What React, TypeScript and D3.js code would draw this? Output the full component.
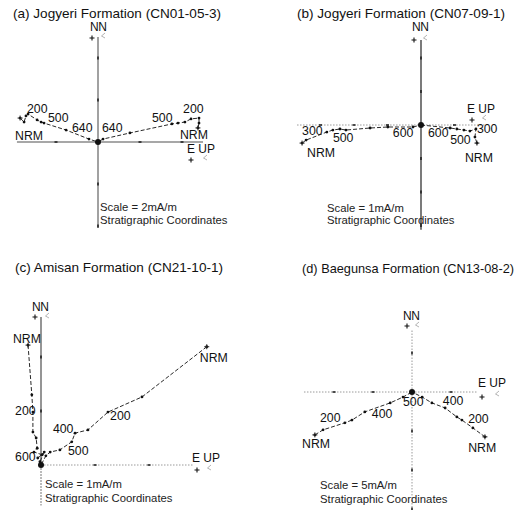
import * as d3 from "d3";

type Pt = [number, number];
type Step = [string, number, number];

// values in mA/m, east / north-up positive
// (a) Jogyeri Formation CN01-05-3
const aWest: Pt[] = [[-3.71, 1.14], [-3.52, 0.95], [-3.43, 1.24], [-3.33, 1.33], [-2.9, 1.05], [-2.71, 0.95], [-2.57, 0.9], [-1.52, 0.57], [-0.43, 0.14], [0, 0]];
const aEast: Pt[] = [[4.76, 0.67], [4.81, 0.9], [4.81, 1.14], [4.43, 1.1], [4.14, 0.95], [3.81, 0.9], [3.52, 0.86], [1.52, 0.43], [0.24, 0.14], [0, 0]];
const aSteps: Step[] = [["NRM", -3.95, 0.1], ["200", -3.38, 1.38], ["500", -2.38, 0.95], ["640", -1.24, 0.48], ["640", 0.19, 0.48], ["500", 2.57, 0.95], ["200", 4.05, 1.38], ["NRM", 3.9, 0.14]];

// (b) Jogyeri Formation CN07-09-1
const bWest: Pt[] = [[-3.55, -0.54], [-3.43, -0.45], [-2.81, -0.21], [-2.63, -0.15], [-2.42, -0.12], [-2.24, -0.15], [-1.52, -0.09], [-0.99, -0.06], [-0.24, -0.06], [0, 0]];
const bEast: Pt[] = [[1.67, -0.54], [1.61, -0.36], [1.64, -0.12], [1.46, -0.18], [1.28, -0.15], [1.07, -0.12], [0.87, -0.09], [0, 0]];
const bSteps: Step[] = [["300", -3.55, -0.3], ["500", -2.63, -0.51], ["NRM", -3.4, -0.96], ["600", -0.84, -0.36], ["600", 0.21, -0.36], ["500", 0.87, -0.57], ["300", 1.67, -0.24], ["NRM", 1.31, -1.1]];

// (c) Amisan Formation CN21-10-1
const cUp: Pt[] = [[-0.24, 2.22], [-0.17, 1.3], [-0.15, 0.98], [-0.15, 0.61], [-0.09, 0.5], [-0.07, 0.31], [-0.13, 0.24], [0.02, 0.19], [-0.06, 0.13], [0.06, 0.24], [-0.02, 0.06], [0, 0]];
const cEast: Pt[] = [[3.07, 2.19], [1.87, 1.26], [1.24, 0.98], [0.87, 0.65], [0.63, 0.59], [0.57, 0.43], [0.35, 0.28], [0.17, 0.24], [0.09, 0.17], [0, 0]];
const cSteps: Step[] = [["NRM", -0.52, 2.26], ["200", -0.48, 0.93], ["600", -0.48, 0.07], ["NRM", 2.94, 1.91], ["200", 1.28, 0.83], ["400", 0.22, 0.59], ["500", 0.5, 0.19]];

// (d) Baegunsa Formation CN13-08-2
const dWest: Pt[] = [[-2.49, -1.1], [-2.28, -0.97], [-1.72, -0.79], [-1.54, -0.72], [-1.21, -0.51], [-0.56, -0.28], [-0.23, -0.13], [0, 0]];
const dEast: Pt[] = [[1.87, -1.15], [1.56, -0.92], [1.28, -0.72], [1.15, -0.64], [0.85, -0.41], [0.51, -0.28], [0.26, -0.13], [0, 0]];
const dSteps: Step[] = [["NRM", -2.82, -1.44], ["200", -2.36, -0.77], ["400", -1.03, -0.67], ["500", -0.23, -0.36], ["400", 0.79, -0.33], ["200", 1.44, -0.79], ["NRM", 1.44, -1.54]];

const titles = ["(a) Jogyeri Formation (CN01-05-3)", "(b) Jogyeri Formation (CN07-09-1)", "(c) Amisan Formation (CN21-10-1)", "(d) Baegunsa Formation (CN13-08-2)"];
const scaleTexts = ["Scale = 2mA/m", "Scale = 1mA/m", "Scale = 1mA/m", "Scale = 5mA/m"];

interface AxisStyle { stroke: string; width: number; dash?: string }
interface PanelCfg {
  title: string; titleX: number; titleY: number; titleW: number;
  ox: number; oy: number; k: number;
  xDomain: [number, number]; yDomain: [number, number]; tickStep: number;
  hAxis: AxisStyle; vAxis: AxisStyle; vAxisLow?: AxisStyle;
  series: Pt[][]; steps: Step[];
  nn: [number, number]; nnMarks: [number, number, number, number];
  eup: [number, number]; eupMarks: [number, number, number, number];
  scaleText: string; scaleX: number; scaleY: [number, number];
}

const solidGray: AxisStyle = { stroke: "#8a8a8a", width: 1.6 };
const dotted: AxisStyle = { stroke: "#9a9a9a", width: 1, dash: "1.5,1.5" };

const panels: PanelCfg[] = [
  {
    title: titles[0], titleX: 13, titleY: 18, titleW: 208, ox: 98, oy: 142, k: 21,
    xDomain: [-3.86, 5], yDomain: [-4.1, 5], tickStep: 2,
    hAxis: solidGray, vAxis: solidGray, series: [aWest, aEast], steps: aSteps,
    nn: [90, 31], nnMarks: [92, 38, 103, 36], eup: [187, 153], eupMarks: [191, 160, 205, 158],
    scaleText: scaleTexts[0], scaleX: 100, scaleY: [211, 224],
  },
  {
    title: titles[1], titleX: 297, titleY: 18, titleW: 208, ox: 421, oy: 125, k: 33.5,
    xDomain: [-3.7, 1.91], yDomain: [-3.13, 2.54], tickStep: 1,
    hAxis: dotted, vAxis: { stroke: "#333", width: 1.3 }, series: [bWest, bEast], steps: bSteps,
    nn: [412, 31], nnMarks: [414, 40, 425, 38], eup: [467, 113], eupMarks: [472, 120, 484, 118],
    scaleText: scaleTexts[1], scaleX: 327, scaleY: [212, 224],
  },
  {
    title: titles[2], titleX: 15, titleY: 272, titleW: 208, ox: 41, oy: 465, k: 54,
    xDomain: [0, 2.83], yDomain: [-0.75, 2.74], tickStep: 1,
    hAxis: dotted, vAxis: { stroke: "#8a8a8a", width: 1.8 }, vAxisLow: { stroke: "#777", width: 1, dash: "2,1" },
    series: [cUp, cEast], steps: cSteps,
    nn: [32, 311], nnMarks: [35, 317, 47, 316], eup: [192, 462], eupMarks: [197, 470, 209, 468],
    scaleText: scaleTexts[2], scaleX: 45, scaleY: [488, 502],
  },
  {
    title: titles[3], titleX: 302, titleY: 273, titleW: 212, ox: 412, oy: 392, k: 39,
    xDomain: [-2.77, 1.69], yDomain: [-3.1, 1.59], tickStep: 1,
    hAxis: dotted, vAxis: dotted, series: [dWest, dEast], steps: dSteps,
    nn: [403, 320], nnMarks: [407, 326, 417, 325], eup: [478, 387], eupMarks: [482, 397, 497, 394],
    scaleText: scaleTexts[3], scaleX: 320, scaleY: [489, 503],
  },
];

const FONT = "'Liberation Sans', Arial, sans-serif";

// small "+" cross and the faint open wedge that sit beside axis-end labels
const cross = (cx: number, cy: number, s = 2.5) => `M${cx - s},${cy}H${cx + s}M${cx},${cy - s}V${cy + s}`;
const wedge = (cx: number, cy: number) => `M${cx + 2},${cy - 3}L${cx - 1.5},${cy}L${cx + 2},${cy + 2}`;

function Panel({ cfg }: { cfg: PanelCfg }) {
  const x = d3.scaleLinear().domain(cfg.xDomain)
    .range([cfg.ox + cfg.k * cfg.xDomain[0], cfg.ox + cfg.k * cfg.xDomain[1]]);
  const y = d3.scaleLinear().domain(cfg.yDomain)
    .range([cfg.oy - cfg.k * cfg.yDomain[0], cfg.oy - cfg.k * cfg.yDomain[1]]);
  const line = d3.line<Pt>().x((d) => x(d[0])).y((d) => y(d[1]));

  const xTicks = d3.range(Math.ceil(cfg.xDomain[0] / cfg.tickStep), Math.floor(cfg.xDomain[1] / cfg.tickStep) + 1)
    .map((i) => i * cfg.tickStep).filter((v) => v !== 0);
  const yTicks = d3.range(Math.ceil(cfg.yDomain[0] / cfg.tickStep), Math.floor(cfg.yDomain[1] / cfg.tickStep) + 1)
    .map((i) => i * cfg.tickStep).filter((v) => v !== 0);

  const low = cfg.vAxisLow ?? cfg.vAxis;

  return (
    <g fontFamily={FONT}>
      <text x={cfg.titleX} y={cfg.titleY} fontSize={13.5} fill="#111"
        textLength={cfg.titleW} lengthAdjust="spacingAndGlyphs">{cfg.title}</text>

      {/* axes */}
      <line x1={x(cfg.xDomain[0])} x2={x(cfg.xDomain[1])} y1={y(0)} y2={y(0)}
        stroke={cfg.hAxis.stroke} strokeWidth={cfg.hAxis.width} strokeDasharray={cfg.hAxis.dash} />
      <line x1={x(0)} x2={x(0)} y1={y(0)} y2={y(cfg.yDomain[1])}
        stroke={cfg.vAxis.stroke} strokeWidth={cfg.vAxis.width} strokeDasharray={cfg.vAxis.dash} />
      <line x1={x(0)} x2={x(0)} y1={y(0)} y2={y(cfg.yDomain[0])}
        stroke={low.stroke} strokeWidth={low.width} strokeDasharray={low.dash} />
      {xTicks.map((t) => (
        <line key={"xt" + t} x1={x(t) - 1.5} x2={x(t) + 1.5} y1={y(0)} y2={y(0)} stroke="#222" strokeWidth={1.6} />
      ))}
      {yTicks.map((t) => (
        <line key={"yt" + t} x1={x(0)} x2={x(0)} y1={y(t) - 1.5} y2={y(t) + 1.5} stroke="#222" strokeWidth={1.6} />
      ))}

      {/* demagnetisation paths */}
      {cfg.series.map((s, i) => (
        <g key={"s" + i}>
          <path d={line(s) ?? ""} fill="none" stroke="#2a2a2a" strokeWidth={1} strokeDasharray="4,2" />
          {s.map((p, j) => (
            <circle key={j} cx={x(p[0])} cy={y(p[1])} r={1.4} fill="#111" />
          ))}
          <path d={cross(x(s[0][0]), y(s[0][1]))} stroke="#222" strokeWidth={1} />
        </g>
      ))}
      <circle cx={x(0)} cy={y(0)} r={3} fill="#111" />

      {/* step labels */}
      {cfg.steps.map(([t, u, v], i) => (
        <text key={"l" + i} x={x(u)} y={y(v)} fontSize={12.3} fill="#111">{t}</text>
      ))}

      {/* axis end labels */}
      <text x={cfg.nn[0]} y={cfg.nn[1]} fontSize={12} fill="#111" letterSpacing={-0.5}>NN</text>
      <path d={cross(cfg.nnMarks[0], cfg.nnMarks[1])} stroke="#111" strokeWidth={1.1} />
      <path d={wedge(cfg.nnMarks[2], cfg.nnMarks[3])} stroke="#aaa" strokeWidth={0.9} fill="none" />
      <text x={cfg.eup[0]} y={cfg.eup[1]} fontSize={12} fill="#111">E UP</text>
      <path d={cross(cfg.eupMarks[0], cfg.eupMarks[1])} stroke="#111" strokeWidth={1.1} />
      <path d={wedge(cfg.eupMarks[2], cfg.eupMarks[3])} stroke="#aaa" strokeWidth={0.9} fill="none" />

      <text x={cfg.scaleX} y={cfg.scaleY[0]} fontSize={11.3} fill="#222">{cfg.scaleText}</text>
      <text x={cfg.scaleX} y={cfg.scaleY[1]} fontSize={11.3} fill="#222">Stratigraphic Coordinates</text>
    </g>
  );
}

export default function App() {
  return (
    <svg width={530} height={510} style={{ position: "absolute", left: 0, top: 0, background: "#fff" }}>
      <rect width={530} height={510} fill="#fff" />
      {panels.map((p, i) => <Panel key={i} cfg={p} />)}
    </svg>
  );
}
